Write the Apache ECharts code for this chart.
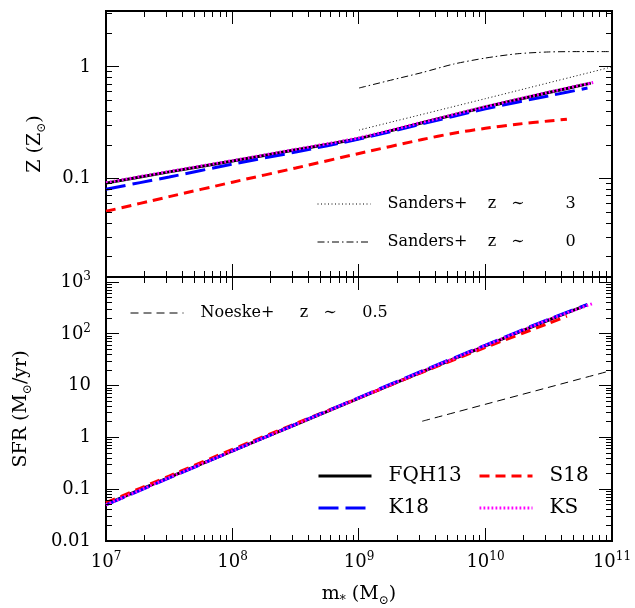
<!DOCTYPE html>
<html>
<head>
<meta charset="utf-8">
<script src="https://cdn.jsdelivr.net/npm/echarts@6/dist/echarts.min.js"></script>
<style>
  html, body { margin: 0; padding: 0; background: #fff; }
  #chart { width: 635px; height: 608px; }
</style>
</head>
<body>
<div id="chart"></div>
<script>
// ---- stellar mass axis (shared) ----
const MASS_MIN = 1e7;
const MASS_MAX = 1e11;
const MASS_LABELS = [1e7, 1e8, 1e9, 1e10, 1e11];
const MASS_MAJOR_TICKS = [1e8, 1e9, 1e10];

// ---- metallicity panel ----
const Z_MIN = Math.pow(10, -1.88);
const Z_MAX = Math.pow(10, 0.5);
const Z_LABELS = [0.1, 1];
const Z_MAJOR_TICKS = [0.1, 1];

// ---- star formation rate panel ----
const SFR_MIN = 0.01;
const SFR_MAX = Math.pow(10, 3.1);
const SFR_LABELS = [0.01, 0.1, 1, 10, 100, 1000];
const SFR_MAJOR_TICKS = [0.1, 1, 10, 100, 1000];

// metallicity vs stellar mass
const fqhMassZ = [1e7, 3.16e7, 1e8, 3.16e8, 1e9, 3.16e9, 1e10, 3.16e10, 6.8e10];
const fqhZ     = [0.0912, 0.115, 0.1436, 0.181, 0.229, 0.316, 0.437, 0.589, 0.716];
const k18MassZ = [1e7, 3.16e7, 1e8, 3.16e8, 1e9, 3.16e9, 1e10, 3.16e10, 6.4e10];
const k18Z     = [0.0805, 0.1035, 0.135, 0.173, 0.226, 0.309, 0.422, 0.55, 0.647];
const s18MassZ = [1e7, 3.16e7, 1e8, 3.16e8, 1e9, 3.16e9, 5.6e9, 1e10, 1.78e10, 3.16e10, 4.4e10];
const s18Z     = [0.051, 0.069, 0.093, 0.1245, 0.168, 0.224, 0.255, 0.282, 0.307, 0.328, 0.340];
const ksMassZ  = [1e7, 3.16e7, 1e8, 3.16e8, 1e9, 3.16e9, 1e10, 3.16e10, 7.1e10];
const ksZ      = [0.092, 0.116, 0.145, 0.183, 0.232, 0.319, 0.44, 0.594, 0.725];
const sanders3Mass = [1e9, 1e10, 1e11];
const sanders3Z    = [0.272, 0.52, 1.0];
const sanders0Mass = [1e9, 1.78e9, 3.16e9, 5.6e9, 1e10, 1.78e10, 3.16e10, 5.6e10, 1e11];
const sanders0Z    = [0.647, 0.76, 0.89, 1.06, 1.20, 1.31, 1.36, 1.37, 1.37];

// star formation rate vs stellar mass
const fqhMassS = [1e7, 3.16e7, 1e8, 3.16e8, 1e9, 3.16e9, 1e10, 3.16e10, 6.3e10];
const fqhSFR   = [0.051, 0.17, 0.55, 1.78, 5.75, 18.6, 58.9, 186, 360];
const k18MassS = [1e7, 3.16e7, 1e8, 3.16e8, 1e9, 3.16e9, 1e10, 3.16e10, 6.4e10];
const k18SFR   = [0.050, 0.165, 0.55, 1.8, 5.9, 19.3, 61, 193, 370];
const s18MassS = [1e7, 3.16e7, 1e8, 3.16e8, 1e9, 3.16e9, 1e10, 3.16e10, 4.4e10];
const s18SFR   = [0.055, 0.18, 0.59, 1.86, 5.8, 18.2, 55, 160, 221];
const ksMassS  = [1e7, 3.16e7, 1e8, 3.16e8, 1e9, 3.16e9, 1e10, 3.16e10, 7.1e10];
const ksSFR    = [0.050, 0.168, 0.55, 1.78, 5.8, 18.8, 59.5, 188, 390];
const noeskeMass = [3.16e9, 1e11];
const noeskeSFR  = [2.06, 19.8];

// series labels
const NAME_FQH = 'FQH13';
const NAME_S18 = 'S18';
const NAME_K18 = 'K18';
const NAME_KS = 'KS';
const NAME_S3 = 'Sanders+ z \u223C 3';
const NAME_S0 = 'Sanders+ z \u223C 0';
const NAME_NOESKE = 'Noeske+ z \u223C 0.5';
const LEGEND_TEXT = {
  [NAME_S3]: 'Sanders+    z   \u223C        3',
  [NAME_S0]: 'Sanders+    z   \u223C        0',
  [NAME_NOESKE]: 'Noeske+     z   \u223C     0.5'
};

const FONT = '"DejaVu Serif", "Liberation Serif", serif';
const BLACK = '#000000';
const MAJOR_LEN = 13, MINOR_LEN = 6;

function zip(xs, ys) { return xs.map((x, i) => [x, ys[i]]); }
function expOf(v) { return Math.round(Math.log10(v)); }

// minor ticks at 2..9 times each decade, strictly inside (lo, hi)
function minorTicks(lo, hi) {
  const out = [];
  for (let e = -3; e <= 11; e++) {
    for (let k = 2; k <= 9; k++) {
      const v = k * Math.pow(10, e);
      if (v > lo * 1.0001 && v < hi * 0.9999) out.push(v);
    }
  }
  return out;
}

const tickRich = {
  b: { fontFamily: FONT, fontSize: 18, lineHeight: 22, color: BLACK },
  s: { fontFamily: FONT, fontSize: 12, lineHeight: 12, verticalAlign: 'top', color: BLACK }
};
const nameRich = {
  n: { fontFamily: FONT, fontSize: 19, lineHeight: 26, color: BLACK },
  s: { fontFamily: FONT, fontSize: 12, lineHeight: 12, verticalAlign: 'bottom', color: BLACK }
};

function massLabel(v) { return '{b|10}{s|' + expOf(v) + '}'; }
function zLabel(v) { return '{b|' + (expOf(v) === 0 ? '1' : '0.1') + '}'; }
function sfrLabel(v) {
  const e = expOf(v);
  if (e === -2) return '{b|0.01}';
  if (e === -1) return '{b|0.1}';
  if (e === 0) return '{b|1}';
  if (e === 1) return '{b|10}';
  return '{b|10}{s|' + e + '}';
}

// logarithmic axis carrying labels and title; the frame comes from the grid border
function logAxis(dim, grid, lo, hi, opts) {
  opts = opts || {};
  const ax = {
    type: 'log', logBase: 10, gridIndex: grid,
    position: dim === 'x' ? 'bottom' : 'left',
    min: lo, max: hi,
    axisLine: { show: false, onZero: false },
    axisTick: { show: false },
    minorTick: { show: false },
    splitLine: { show: false },
    minorSplitLine: { show: false },
    axisLabel: { show: false }
  };
  if (opts.labels) {
    ax.axisLabel = {
      show: true, customValues: opts.labels, formatter: opts.formatter,
      margin: opts.margin, rich: tickRich, color: BLACK, hideOverlap: false
    };
  }
  if (opts.name) {
    ax.name = opts.name;
    ax.nameLocation = 'middle';
    ax.nameGap = opts.nameGap;
    ax.nameRotate = dim === 'y' ? 90 : 0;
    ax.nameTextStyle = { rich: nameRich, color: BLACK };
  }
  return ax;
}

const frame = { show: true, borderColor: BLACK, borderWidth: 2, backgroundColor: 'transparent' };
const grids = [
  Object.assign({ left: 106, right: 23, top: 11, height: 266 }, frame),
  Object.assign({ left: 106, right: 23, top: 277, height: 268 }, frame)
];

const xAxes = [
  logAxis('x', 0, MASS_MIN, MASS_MAX),
  logAxis('x', 1, MASS_MIN, MASS_MAX, {
    labels: MASS_LABELS, formatter: massLabel, margin: 10,
    name: '{n|m}{s|*}{n| (M}{s|\u2299}{n|)}', nameGap: 40 })
];
const yAxes = [
  logAxis('y', 0, Z_MIN, Z_MAX, {
    labels: Z_LABELS, formatter: zLabel, margin: 15,
    name: '{n|Z (Z}{s|\u2299}{n|)}', nameGap: 58 }),
  logAxis('y', 1, SFR_MIN, SFR_MAX, {
    labels: SFR_LABELS, formatter: sfrLabel, margin: 15,
    name: '{n|SFR (M}{s|\u2299}{n|/yr)}', nameGap: 72 })
];

// tick marks on all four frame sides: kind 1 = x major, 2 = x minor, 3 = y major, 4 = y minor
function tickItems(xMajor, xMinor, yMajor, yMinor) {
  return [].concat(
    xMajor.map(v => [v, 1]), xMinor.map(v => [v, 2]),
    yMajor.map(v => [v, 3]), yMinor.map(v => [v, 4]));
}
function crisp(c) { return Math.round(c - 0.5) + 0.5; }
function tickSeries(panel, yLo, yHi, items) {
  return {
    type: 'custom', xAxisIndex: panel, yAxisIndex: panel,
    data: items, clip: false, silent: true, animation: false, z: 10,
    encode: { x: 0, y: 1 },
    renderItem: function (params, api) {
      const v = api.value(0);
      const kind = api.value(1);
      const len = (kind === 1 || kind === 3) ? MAJOR_LEN : MINOR_LEN;
      const style = { stroke: BLACK, lineWidth: 1 };
      let a, b;
      if (kind <= 2) {
        const pb = api.coord([v, yLo]);
        const pt = api.coord([v, yHi]);
        const x = crisp(pb[0]);
        a = { x1: x, y1: pb[1], x2: x, y2: pb[1] - len };
        b = { x1: x, y1: pt[1], x2: x, y2: pt[1] + len };
      } else {
        const pl = api.coord([MASS_MIN, v]);
        const pr = api.coord([MASS_MAX, v]);
        const y = crisp(pl[1]);
        a = { x1: pl[0], y1: y, x2: pl[0] + len, y2: y };
        b = { x1: pr[0], y1: y, x2: pr[0] - len, y2: y };
      }
      return {
        type: 'group',
        children: [
          { type: 'line', shape: a, style: style },
          { type: 'line', shape: b, style: style }
        ]
      };
    }
  };
}

const STYLE = {
  [NAME_FQH]: { color: BLACK, width: 3, type: 'solid' },
  [NAME_S18]: { color: '#ff0000', width: 3, type: [10, 6] },
  [NAME_K18]: { color: '#0000ff', width: 3, type: [20, 7] },
  [NAME_KS]: { color: '#ff00ff', width: 3, type: [1.8, 2.2] },
  [NAME_S3]: { color: BLACK, width: 1, type: [1, 2.5] },
  [NAME_S0]: { color: BLACK, width: 1, type: [7, 3, 1.5, 3] },
  [NAME_NOESKE]: { color: BLACK, width: 1, type: [8, 5] }
};

function line(name, panel, xs, ys, z) {
  const st = STYLE[name];
  return {
    name: name, type: 'line',
    xAxisIndex: panel, yAxisIndex: panel,
    data: zip(xs, ys), symbol: 'none', smooth: 0.25,
    color: st.color,
    lineStyle: { color: st.color, width: st.width, type: st.type },
    z: z, silent: true, animation: false
  };
}

const massMinor = minorTicks(MASS_MIN, MASS_MAX);
const series = [
  tickSeries(0, Z_MIN, Z_MAX, tickItems(MASS_MAJOR_TICKS, massMinor, Z_MAJOR_TICKS, minorTicks(Z_MIN, Z_MAX))),
  tickSeries(1, SFR_MIN, SFR_MAX, tickItems(MASS_MAJOR_TICKS, massMinor, SFR_MAJOR_TICKS, minorTicks(SFR_MIN, SFR_MAX))),
  line(NAME_S3, 0, sanders3Mass, sanders3Z, 2),
  line(NAME_S0, 0, sanders0Mass, sanders0Z, 2),
  line(NAME_S18, 0, s18MassZ, s18Z, 3),
  line(NAME_FQH, 0, fqhMassZ, fqhZ, 4),
  line(NAME_K18, 0, k18MassZ, k18Z, 5),
  line(NAME_KS, 0, ksMassZ, ksZ, 6),
  line(NAME_NOESKE, 1, noeskeMass, noeskeSFR, 2),
  line(NAME_FQH, 1, fqhMassS, fqhSFR, 3),
  line(NAME_S18, 1, s18MassS, s18SFR, 4),
  line(NAME_K18, 1, k18MassS, k18SFR, 5),
  line(NAME_KS, 1, ksMassS, ksSFR, 6)
];

function legendEntry(name, left, centerY, fontSize) {
  const st = STYLE[name];
  return {
    data: [name], left: left, top: centerY - 10, padding: 0,
    orient: 'horizontal', selectedMode: false,
    itemWidth: 53, itemHeight: 20,
    itemStyle: { opacity: 0, borderWidth: 0 },
    lineStyle: { color: st.color, width: st.width, type: st.type },
    textStyle: { fontFamily: FONT, fontSize: fontSize, lineHeight: 20, color: BLACK,
                 padding: [0, 0, 0, 12] },
    formatter: n => LEGEND_TEXT[n] || n
  };
}

const legends = [
  legendEntry(NAME_S3, 317, 204, 16),
  legendEntry(NAME_S0, 317, 242, 16),
  legendEntry(NAME_NOESKE, 130, 313, 16),
  legendEntry(NAME_FQH, 317, 476, 20),
  legendEntry(NAME_S18, 478, 476, 20),
  legendEntry(NAME_K18, 317, 508, 20),
  legendEntry(NAME_KS, 478, 508, 20)
];

const chart = echarts.init(document.getElementById('chart'), null, { renderer: 'canvas' });
chart.setOption({
  animation: false,
  backgroundColor: '#ffffff',
  textStyle: { fontFamily: FONT },
  grid: grids,
  xAxis: xAxes,
  yAxis: yAxes,
  legend: legends,
  series: series
});
</script>
</body>
</html>
